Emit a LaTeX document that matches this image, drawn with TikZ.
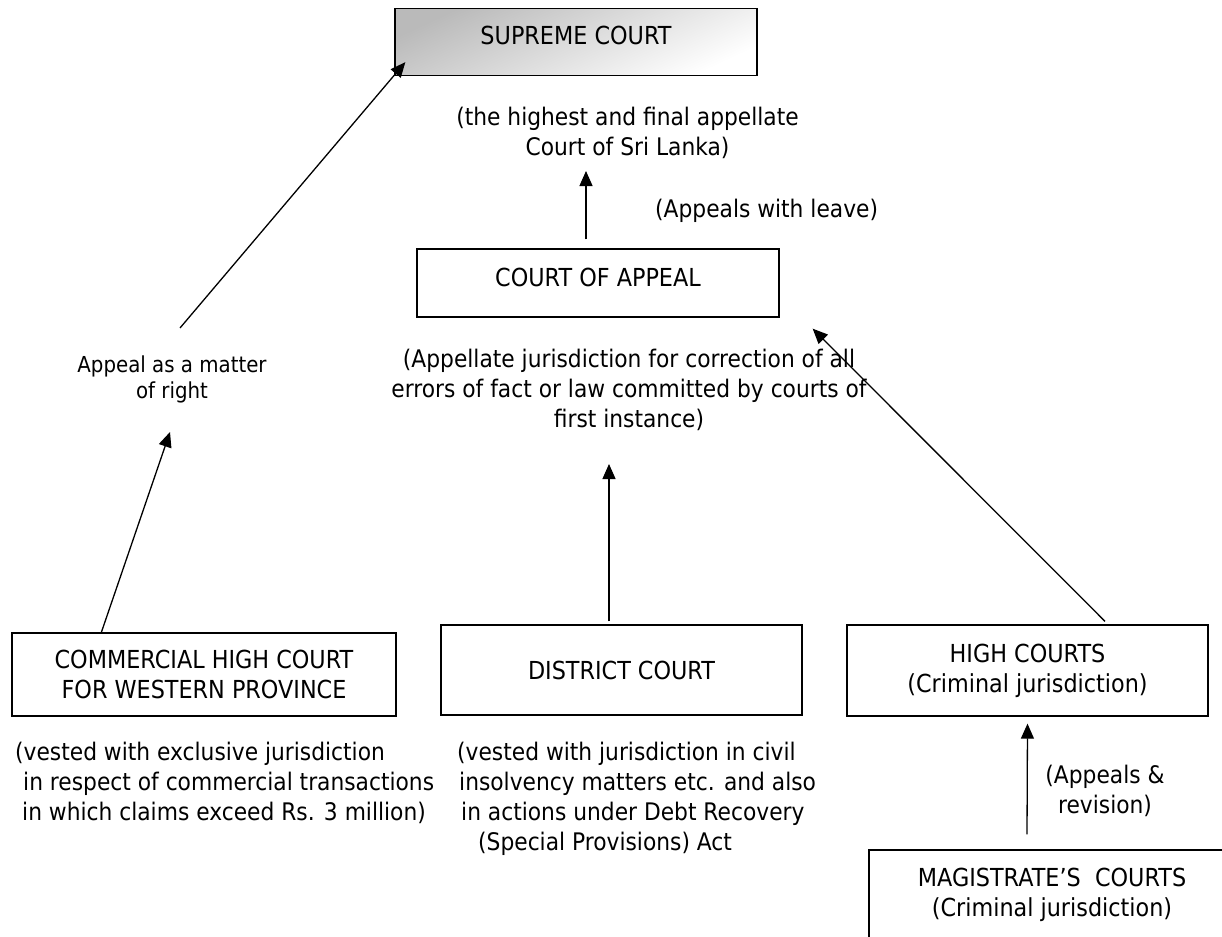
\documentclass[tikz,border=0pt]{standalone}
\usepackage{fontspec}
\setmainfont{DejaVu Sans}[FakeStretch=0.9]
\usetikzlibrary{arrows.meta}

\begin{document}
\begin{tikzpicture}[x=1pt,y=-1pt,
  court/.style={draw,line width=1.3pt,inner sep=0pt,align=center,
    font=\fontsize{24.8}{30}\selectfont},
  note/.style={inner sep=0pt,font=\fontsize{24.2}{30}\selectfont},
  small/.style={inner sep=0pt,align=center,font=\fontsize{22}{26}\selectfont},
  arr/.style={line width=1.3pt,-{Triangle[length=15pt,width=13pt]}}]
\useasboundingbox (0,0) rectangle (1222,936);
\clip (0,0) rectangle (1222,936);
\fill[white] (0,0) rectangle (1222,936);

\node[court,minimum width=362pt,minimum height=67pt,
  top color=black!27,bottom color=white,shading angle=25] (sc) at (576,42)
  {\raisebox{7pt}[\height][\depth]{SUPREME COURT}};
\node[note,align=center,anchor=north] (scnote) at (627.5,106.5)
  {(the highest and final appellate\\Court of Sri Lanka)};
\node[note,anchor=north west] (leave) at (655,198.5) {(Appeals with leave)};
\node[court,minimum width=362pt,minimum height=68pt] (coa) at (598,283)
  {\raisebox{6pt}[\height][\depth]{COURT OF APPEAL}};
\node[note,align=center,anchor=north] (apnote) at (629,348.5)
  {(Appellate jurisdiction for correction of all\\errors of fact or law committed by courts of\\first instance)};
\node[small,anchor=north] (aomr) at (172,356) {Appeal as a matter\\of right};

\node[court,minimum width=384pt,minimum height=83pt] (chc) at (204,674.5)
  {COMMERCIAL HIGH COURT\\FOR WESTERN PROVINCE};
\node[court,minimum width=361pt,minimum height=90pt] (dc) at (621.5,670) {DISTRICT COURT};
\node[court,minimum width=361pt,minimum height=91pt] (hc) at (1027.5,670.5)
  {HIGH COURTS\\(Criminal jurisdiction)};
\node[note,align=left,anchor=north west] (chcnote) at (15,741.5)
  {(vested with exclusive jurisdiction\\\hspace*{8pt}in respect of commercial transactions\\\hspace*{7pt}in which claims exceed Rs. 3 million)};
\node[note,align=left,anchor=north west] (dcnote) at (457,741.5)
  {(vested with jurisdiction in civil\\\hspace*{2pt}insolvency matters etc. and also\\\hspace*{4pt}in actions under Debt Recovery\\\hspace*{21pt}(Special Provisions) Act};
\node[note,align=center,anchor=north] (revnote) at (1105,764.5) {(Appeals \&\\revision)};
\node[court,minimum width=366pt,minimum height=90pt] (mc) at (1052,895)
  {MAGISTRATE’S\ \ COURTS\\(Criminal jurisdiction)};

\coordinate (aomrin) at (170,432);
\coordinate (aomrout) at (180,328);
\coordinate (scnin) at (586,171);
\coordinate (apnin) at (609,464);

\draw[arr] ([xshift=90pt]chc.north west) -- (aomrin);
\draw[arr] (aomrout) -- ([shift={(11pt,14pt)}]sc.south west);
\draw[arr] ([xshift=-12pt,yshift=9pt]coa.north) -- (scnin);
\draw[arr] ([xshift=-12.5pt,yshift=3pt]dc.north) -- (apnin);
\draw[arr] ([xshift=77.5pt,yshift=3pt]hc.north) -- ([shift={(33pt,-11pt)}]coa.south east);
\draw[arr] ([xshift=-25pt,yshift=15pt]mc.north) -- ([yshift=-7pt]hc.south);
\end{tikzpicture}
\end{document}
